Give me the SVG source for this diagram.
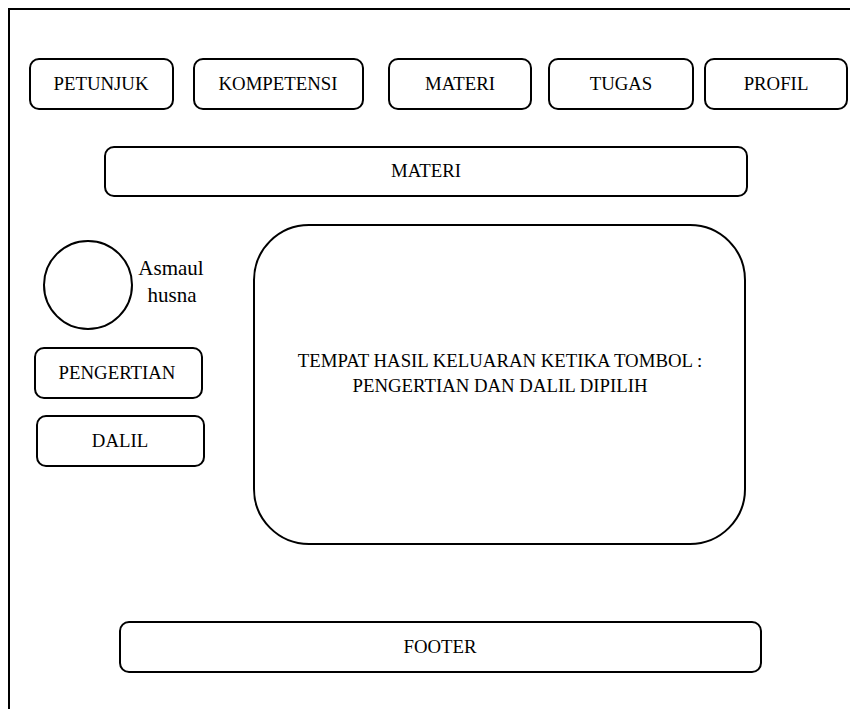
<svg xmlns="http://www.w3.org/2000/svg" width="850" height="709" viewBox="0 0 850 709">
<style>
.b{fill:#fff;stroke:#000;stroke-width:2}
.t{font-family:"Liberation Serif","Times New Roman",serif;font-size:18.8px;fill:#000;text-anchor:middle}
.a{font-family:"Liberation Serif","Times New Roman",serif;font-size:21px;fill:#000;text-anchor:middle}
</style>
<rect width="850" height="709" fill="#fff"/>
<g id="frame"><path d="M9,709 V9 H850" fill="none" stroke="#000" stroke-width="2"/></g>
<g id="petunjuk"><rect class="b" x="30" y="59" width="143" height="50" rx="9"/><text class="t" x="101" y="90">PETUNJUK</text></g>
<g id="kompetensi"><rect class="b" x="194" y="59" width="169" height="50" rx="9"/><text class="t" x="278" y="90">KOMPETENSI</text></g>
<g id="materi-nav"><rect class="b" x="389" y="59" width="142" height="50" rx="9"/><text class="t" x="460" y="90">MATERI</text></g>
<g id="tugas"><rect class="b" x="549" y="59" width="144" height="50" rx="9"/><text class="t" x="621" y="90">TUGAS</text></g>
<g id="profil"><rect class="b" x="705" y="59" width="142" height="50" rx="9"/><text class="t" x="776" y="90">PROFIL</text></g>
<g id="materi-bar"><rect class="b" x="105" y="147" width="642" height="49" rx="9"/><text class="t" x="426" y="177">MATERI</text></g>
<g id="asmaul"><circle class="b" cx="88" cy="285" r="44"/><text class="a" x="171" y="275">Asmaul</text><text class="a" x="172" y="302">husna</text></g>
<g id="pengertian"><rect class="b" x="35" y="348" width="167" height="50" rx="9"/><text class="t" x="117" y="379">PENGERTIAN</text></g>
<g id="dalil"><rect class="b" x="37" y="416" width="167" height="50" rx="9"/><text class="t" x="120" y="447">DALIL</text></g>
<g id="output"><rect class="b" x="254" y="225" width="491" height="319" rx="55"/><text class="t" x="500" y="367">TEMPAT HASIL KELUARAN KETIKA TOMBOL :</text><text class="t" x="500" y="392">PENGERTIAN DAN DALIL DIPILIH</text></g>
<g id="footer"><rect class="b" x="120" y="622" width="641" height="50" rx="9"/><text class="t" x="440" y="653">FOOTER</text></g>
<g id="connectors"></g>
</svg>
